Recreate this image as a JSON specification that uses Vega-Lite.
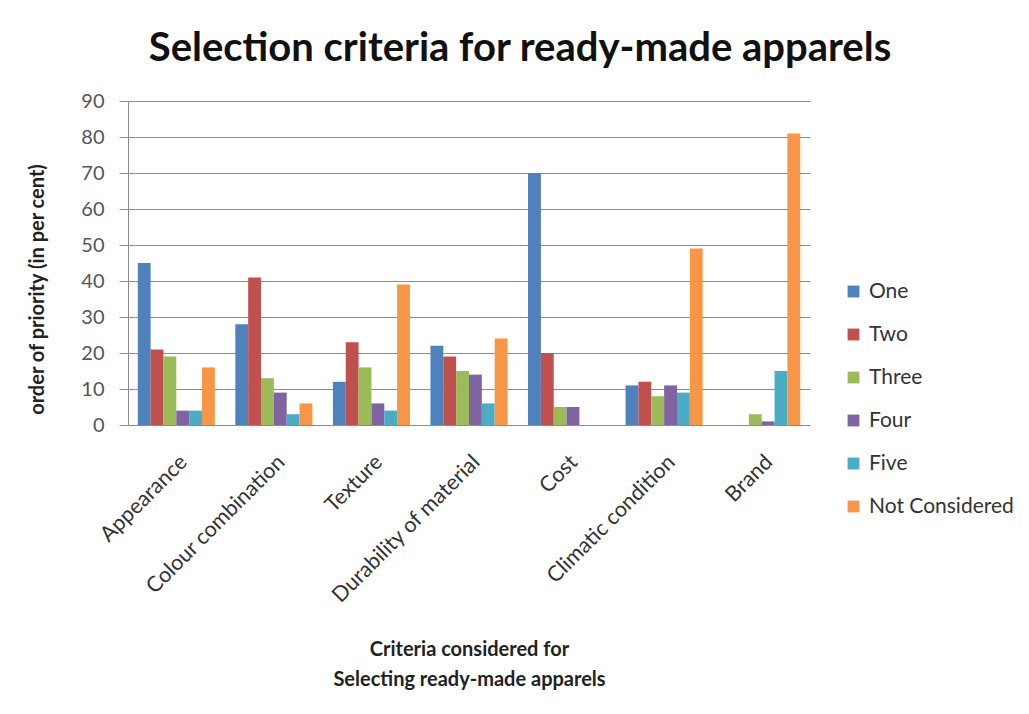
{
  "$schema": "https://vega.github.io/schema/vega-lite/v6.json",
  "autosize": {"type": "none"},
  "width": 682,
  "height": 324,
  "padding": {"left": 128, "top": 101, "right": 219, "bottom": 289},
  "background": "white",
  "title": {
    "text": "Selection criteria for ready-made apparels",
    "font": "Lato",
    "fontSize": 40,
    "fontWeight": "bold",
    "color": "#111111",
    "anchor": "middle",
    "frame": "group",
    "dx": 51,
    "offset": 22
  },
  "data": {
    "values": [
      {"criterion": "Appearance", "priority": "One", "percent": 45},
      {"criterion": "Appearance", "priority": "Two", "percent": 21},
      {"criterion": "Appearance", "priority": "Three", "percent": 19},
      {"criterion": "Appearance", "priority": "Four", "percent": 4},
      {"criterion": "Appearance", "priority": "Five", "percent": 4},
      {"criterion": "Appearance", "priority": "Not Considered", "percent": 16},
      {"criterion": "Colour combination", "priority": "One", "percent": 28},
      {"criterion": "Colour combination", "priority": "Two", "percent": 41},
      {"criterion": "Colour combination", "priority": "Three", "percent": 13},
      {"criterion": "Colour combination", "priority": "Four", "percent": 9},
      {"criterion": "Colour combination", "priority": "Five", "percent": 3},
      {"criterion": "Colour combination", "priority": "Not Considered", "percent": 6},
      {"criterion": "Texture", "priority": "One", "percent": 12},
      {"criterion": "Texture", "priority": "Two", "percent": 23},
      {"criterion": "Texture", "priority": "Three", "percent": 16},
      {"criterion": "Texture", "priority": "Four", "percent": 6},
      {"criterion": "Texture", "priority": "Five", "percent": 4},
      {"criterion": "Texture", "priority": "Not Considered", "percent": 39},
      {"criterion": "Durability of material", "priority": "One", "percent": 22},
      {"criterion": "Durability of material", "priority": "Two", "percent": 19},
      {"criterion": "Durability of material", "priority": "Three", "percent": 15},
      {"criterion": "Durability of material", "priority": "Four", "percent": 14},
      {"criterion": "Durability of material", "priority": "Five", "percent": 6},
      {"criterion": "Durability of material", "priority": "Not Considered", "percent": 24},
      {"criterion": "Cost", "priority": "One", "percent": 70},
      {"criterion": "Cost", "priority": "Two", "percent": 20},
      {"criterion": "Cost", "priority": "Three", "percent": 5},
      {"criterion": "Cost", "priority": "Four", "percent": 5},
      {"criterion": "Cost", "priority": "Five", "percent": 0},
      {"criterion": "Cost", "priority": "Not Considered", "percent": 0},
      {"criterion": "Climatic condition", "priority": "One", "percent": 11},
      {"criterion": "Climatic condition", "priority": "Two", "percent": 12},
      {"criterion": "Climatic condition", "priority": "Three", "percent": 8},
      {"criterion": "Climatic condition", "priority": "Four", "percent": 11},
      {"criterion": "Climatic condition", "priority": "Five", "percent": 9},
      {"criterion": "Climatic condition", "priority": "Not Considered", "percent": 49},
      {"criterion": "Brand", "priority": "One", "percent": 0},
      {"criterion": "Brand", "priority": "Two", "percent": 0},
      {"criterion": "Brand", "priority": "Three", "percent": 3},
      {"criterion": "Brand", "priority": "Four", "percent": 1},
      {"criterion": "Brand", "priority": "Five", "percent": 15},
      {"criterion": "Brand", "priority": "Not Considered", "percent": 81}
    ]
  },
  "mark": {"type": "bar"},
  "encoding": {
    "x": {
      "field": "criterion",
      "type": "nominal",
      "sort": ["Appearance", "Colour combination", "Texture", "Durability of material", "Cost", "Climatic condition", "Brand"],
      "scale": {"paddingInner": 0.21, "paddingOuter": 0.1},
      "axis": {
        "title": ["Criteria considered for", "Selecting ready-made apparels"],
        "titleFont": "Lato",
        "titleFontSize": 20,
        "titleFontWeight": "bold",
        "titleColor": "#222222",
        "titleLineHeight": 30,
        "titleY": 224,
        "titleBaseline": "middle",
        "labelAngle": -45,
        "labelFont": "Lato",
        "labelFontSize": 21.5,
        "labelColor": "#333333",
        "labelPadding": 26,
        "labelLimit": 0,
        "ticks": false,
        "domainColor": "#8c8c8c",
        "grid": false
      }
    },
    "xOffset": {
      "field": "priority",
      "type": "nominal",
      "sort": ["One", "Two", "Three", "Four", "Five", "Not Considered"]
    },
    "y": {
      "field": "percent",
      "type": "quantitative",
      "scale": {"domain": [0, 90]},
      "axis": {
        "values": [0, 10, 20, 30, 40, 50, 60, 70, 80, 90],
        "title": "order of priority (in per cent)",
        "titleFont": "Lato",
        "titleFontSize": 20,
        "titleFontWeight": "bold",
        "titleColor": "#222222",
        "titleX": -81,
        "titleY": 188,
        "labelFont": "Lato",
        "labelFontSize": 20,
        "labelColor": "#555555",
        "labelPadding": 15,
        "tickSize": 9,
        "tickColor": "#8c8c8c",
        "domainColor": "#8c8c8c",
        "gridColor": "#8c8c8c",
        "gridWidth": 1
      }
    },
    "color": {
      "field": "priority",
      "type": "nominal",
      "sort": ["One", "Two", "Three", "Four", "Five", "Not Considered"],
      "scale": {
        "domain": ["One", "Two", "Three", "Four", "Five", "Not Considered"],
        "range": ["#4F81BD", "#C0504D", "#9BBB59", "#8064A2", "#4BACC6", "#F79646"]
      },
      "legend": {
        "title": null,
        "orient": "none",
        "legendX": 715,
        "legendY": 180,
        "symbolType": "square",
        "symbolSize": 140,
        "symbolStrokeWidth": 0,
        "labelFont": "Lato",
        "labelFontSize": 21,
        "labelColor": "#333333",
        "labelOffset": 5,
        "labelLimit": 0,
        "rowPadding": 21
      }
    }
  },
  "config": {
    "view": {"stroke": null}
  }
}
